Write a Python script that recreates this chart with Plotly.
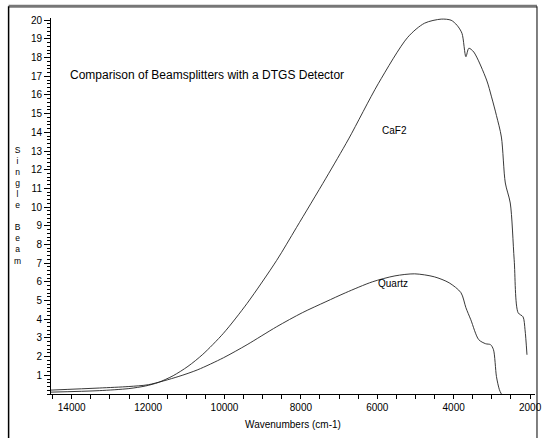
import plotly.graph_objects as go

# Single-beam spectra (wavenumber in cm-1, intensity)
caf2_wn = [14542, 13278, 12504, 12065, 11730, 11343, 10956, 10569, 10027, 9408,
           8634, 8118, 7344, 6750, 5976, 5202, 4764, 4325, 4067, 3912, 3783,
           3680, 3603, 3474, 3138, 3009, 2880, 2751, 2648, 2519, 2416, 2313,
           2184, 2132, 2081]
caf2_val = [0.10, 0.18, 0.29, 0.43, 0.62, 0.98, 1.48, 2.12, 3.25, 4.85,
            7.15, 8.9, 11.55, 13.65, 16.6, 19.09, 19.84, 20.06, 20.0, 19.73, 19.3,
            18.05, 18.5, 18.3, 16.8, 15.9, 14.9, 13.75, 11.29, 10.22, 7.18, 4.35,
            4.13, 3.44, 2.10]

quartz_wn = [14542, 13278, 12504, 11988, 11214, 10698, 10027, 9408, 8634, 7963,
             7344, 6828, 6131, 5538, 5022, 4506, 4119, 3809, 3680, 3551, 3345,
             3164, 3035, 2958, 2880, 2803, 2752]
quartz_val = [0.21, 0.32, 0.40, 0.50, 0.93, 1.30, 1.94, 2.64, 3.60, 4.35,
              4.94, 5.42, 6.0, 6.32, 6.43, 6.27, 5.95, 5.42, 4.62, 3.97, 2.91,
              2.69, 2.64, 2.37, 0.93, 0.23, 0.0]

x_ticks = [14000, 12000, 10000, 8000, 6000, 4000, 2000]
x_labels = [str(v) for v in x_ticks]
y_ticks = list(range(1, 21))

line_style = dict(color="#222222", width=0.9, shape="spline", smoothing=0.8)

fig = go.Figure()
fig.add_trace(go.Scatter(x=caf2_wn, y=caf2_val, mode="lines", line=line_style,
                         name="CaF2", hoverinfo="skip"))
fig.add_trace(go.Scatter(x=quartz_wn, y=quartz_val, mode="lines", line=line_style,
                         name="Quartz", hoverinfo="skip"))

font_family = "Liberation Sans, Arial, sans-serif"

fig.update_layout(
    width=552, height=438,
    margin=dict(l=51, r=10, t=18, b=44),
    paper_bgcolor="white", plot_bgcolor="white",
    showlegend=False,
    font=dict(family=font_family, size=10, color="black"),
    xaxis=dict(
        range=[14542, 1871], tickvals=x_ticks, ticktext=x_labels, ticks="outside",
        ticklen=4, tickwidth=1, tickcolor="black", showline=True, linecolor="black",
        linewidth=1, showgrid=False, zeroline=False,
        minor=dict(dtick=500, tick0=0, ticks="outside", ticklen=4, tickcolor="black"),
        title=dict(text="Wavenumbers (cm-1)", standoff=8, font=dict(size=10)),
        tickfont=dict(size=10),
    ),
    yaxis=dict(
        range=[0, 20.12], tickvals=y_ticks, ticks="outside", ticklen=6,
        tickwidth=1, tickcolor="black", showline=True, linecolor="black", linewidth=1,
        showgrid=False, zeroline=False,
        minor=dict(dtick=0.2, tick0=0, ticks="outside", ticklen=3, tickcolor="black"),
        tickfont=dict(size=10),
    ),
    annotations=[
        dict(text="Comparison of Beamsplitters with a DTGS Detector", xref="paper",
             yref="paper", x=0.0346, y=0.8486, xanchor="left", yanchor="middle",
             showarrow=False, font=dict(size=12)),
        dict(text="CaF2", x=5550, y=14.12, showarrow=False, font=dict(size=10)),
        dict(text="Quartz", x=5580, y=5.9, showarrow=False, font=dict(size=10)),
        dict(text="S<br>i<br>n<br>g<br>l<br>e<br> <br>B<br>e<br>a<br>m",
             xref="paper", yref="paper", x=-0.069, y=0.502, xanchor="center",
             yanchor="middle", showarrow=False, font=dict(size=8.5)),
    ],
    shapes=[
        # outer frame
        dict(type="line", xref="paper", yref="paper", x0=-0.0876, x1=1.0041,
             y0=1.031, y1=1.031, line=dict(color="#777777", width=3)),
        dict(type="line", xref="paper", yref="paper", x0=-0.0876, x1=-0.0876,
             y0=1.031, y1=-0.13, line=dict(color="black", width=1.5)),
        dict(type="line", xref="paper", yref="paper", x0=1.0041, x1=1.0041,
             y0=1.031, y1=-0.13, line=dict(color="black", width=1)),
    ],
)

fig.write_html("out.html")
